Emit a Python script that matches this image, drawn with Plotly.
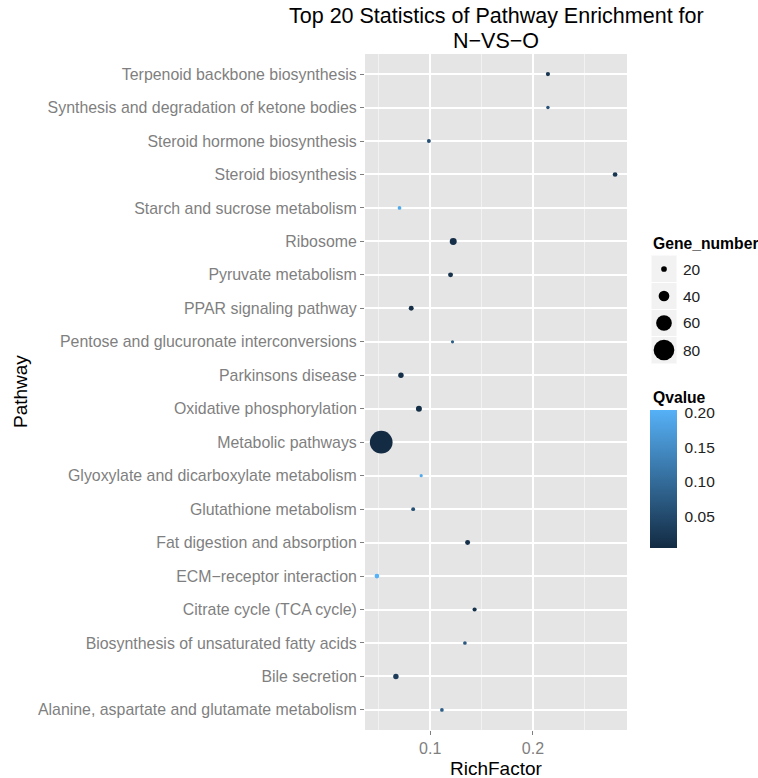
import plotly.graph_objects as go

# ---- data (pathways listed bottom -> top) ----
pathways = [
    "Alanine, aspartate and glutamate metabolism",
    "Bile secretion",
    "Biosynthesis of unsaturated fatty acids",
    "Citrate cycle (TCA cycle)",
    "ECM\u2212receptor interaction",
    "Fat digestion and absorption",
    "Glutathione metabolism",
    "Glyoxylate and dicarboxylate metabolism",
    "Metabolic pathways",
    "Oxidative phosphorylation",
    "Parkinsons disease",
    "Pentose and glucuronate interconversions",
    "PPAR signaling pathway",
    "Pyruvate metabolism",
    "Ribosome",
    "Starch and sucrose metabolism",
    "Steroid biosynthesis",
    "Steroid hormone biosynthesis",
    "Synthesis and degradation of ketone bodies",
    "Terpenoid backbone biosynthesis",
]
rich_factor = [0.1114, 0.0666, 0.1338, 0.1432, 0.0481, 0.1364, 0.0834, 0.0912,
               0.0523, 0.0890, 0.0715, 0.1217, 0.0815, 0.1198, 0.1224, 0.0701,
               0.2800, 0.0987, 0.2146, 0.2146]
gene_number = [12, 19, 12, 14, 16, 17, 13, 10, 88, 21, 19, 10, 17, 17, 25, 12,
               16, 13, 11, 14]
qvalue = [0.080, 0.030, 0.070, 0.015, 0.204, 0.010, 0.060, 0.190, 0.0045, 0.010,
          0.010, 0.080, 0.010, 0.015, 0.010, 0.190, 0.020, 0.060, 0.060, 0.020]

size_breaks = [20, 40, 60, 80]
q_ticks = [0.05, 0.10, 0.15, 0.20]
x_ticks = [0.1, 0.2]
x_minor = [0.05, 0.15, 0.25]

title_lines = ["Top 20 Statistics of Pathway Enrichment for", "N\u2212VS\u2212O"]

# ---- styling helpers ----
W, H = 758, 778
FONT = "Liberation Sans, Arial, sans-serif"
GREY = "#7F7F7F"
PANEL = "#E5E5E5"
SCALE = [[0, "#132B43"], [1, "#56B1F7"]]


def px_x(p):
    return p / W


def px_y(p):
    return 1 - p / H


def diam(n):
    return 0.25 * n + 0.7


# x range with 5% expansion on each side
lo, hi = min(rich_factor), max(rich_factor)
pad = 0.05 * (hi - lo)
x_range = [lo - pad, hi + pad]

qmin, qmax = min(qvalue), max(qvalue)

# colourbar geometry (pixels)
CB_LEFT, CB_TOP, CB_LEN, CB_W = 650, 410, 138, 27

fig = go.Figure()

fig.add_trace(go.Scatter(
    x=rich_factor, y=pathways, mode="markers",
    marker=dict(
        size=[diam(n) for n in gene_number],
        color=qvalue, colorscale=SCALE, cmin=qmin, cmax=qmax,
        line=dict(width=0), opacity=1,
        showscale=True,
        colorbar=dict(
            x=px_x(CB_LEFT), xanchor="left", xpad=0,
            y=px_y(CB_TOP), yanchor="top", ypad=0,
            len=CB_LEN, lenmode="pixels",
            thickness=CB_W, thicknessmode="pixels",
            outlinewidth=0,
            tickvals=q_ticks, ticktext=[f"{v:.2f}" for v in q_ticks],
            ticks="outside", tickcolor="rgba(255,255,255,0)", ticklen=5,
            tickfont=dict(family=FONT, size=15.5, color="#222222"),
        ),
    ),
    showlegend=False, hoverinfo="x+y",
    xaxis="x", yaxis="y",
))

# size legend keys
fig.add_trace(go.Scatter(
    x=[0] * len(size_breaks), y=list(range(len(size_breaks))), mode="markers",
    marker=dict(size=[diam(n) for n in size_breaks], color="#000000",
                opacity=1, line=dict(width=0)),
    opacity=1,
    showlegend=False, hoverinfo="skip",
    xaxis="x2", yaxis="y2",
))

shapes = []
for i in range(len(size_breaks)):
    shapes.append(dict(type="rect", xref="x2", yref="y2",
                       x0=-0.5, x1=0.5, y0=i - 0.5, y1=i + 0.5,
                       fillcolor="#F2F2F2", line=dict(color="white", width=1),
                       layer="below"))

# white tick marks on both edges of the colourbar
for v in q_ticks:
    yp = CB_TOP + (qmax - v) / (qmax - qmin) * CB_LEN
    for x0, x1 in ((CB_LEFT, CB_LEFT + 5), (CB_LEFT + CB_W - 5, CB_LEFT + CB_W)):
        shapes.append(dict(type="line", xref="paper", yref="paper",
                           x0=px_x(x0), x1=px_x(x1),
                           y0=px_y(yp), y1=px_y(yp),
                           line=dict(color="white", width=1)))

annotations = [
    dict(text=title_lines[0], x=px_x(496), y=px_y(16.5),
         xanchor="center", yanchor="middle",
         font=dict(family=FONT, size=21.5, color="black")),
    dict(text=title_lines[1], x=px_x(496), y=px_y(41),
         xanchor="center", yanchor="middle",
         font=dict(family=FONT, size=21.5, color="black")),
    dict(text="Pathway", x=px_x(20), y=px_y(392), textangle=-90,
         xanchor="center", yanchor="middle",
         font=dict(family=FONT, size=19, color="black")),
    dict(text="RichFactor", x=px_x(496), y=px_y(768),
         xanchor="center", yanchor="middle",
         font=dict(family=FONT, size=19, color="black")),
    dict(text="<b>Gene_number</b>", x=px_x(651), y=px_y(243),
         xanchor="left", yanchor="middle",
         font=dict(family=FONT, size=15.7, color="black")),
    dict(text="<b>Qvalue</b>", x=px_x(651), y=px_y(397),
         xanchor="left", yanchor="middle",
         font=dict(family=FONT, size=15.7, color="black")),
]
KEY_TOP, KEY_H = 255.5, 27
for i, n in enumerate(size_breaks):
    annotations.append(dict(text=str(n), x=px_x(681),
                            y=px_y(KEY_TOP + KEY_H * (i + 0.5)),
                            xanchor="left", yanchor="middle",
                            font=dict(family=FONT, size=15.5, color="#222222")))
for a in annotations:
    a.update(xref="paper", yref="paper", showarrow=False)

fig.update_layout(
    width=W, height=H,
    margin=dict(l=0, r=0, t=0, b=0),
    paper_bgcolor="white", plot_bgcolor=PANEL,
    font=dict(family=FONT),
    xaxis=dict(
        domain=[px_x(365), px_x(627)], range=x_range,
        tickmode="array", tickvals=x_ticks, ticktext=[str(v) for v in x_ticks],
        showgrid=True, gridcolor="white", gridwidth=1.6,
        minor=dict(tickmode="array", tickvals=x_minor, showgrid=True,
                   gridcolor="#F2F2F2", gridwidth=0.8, ticks=""),
        ticks="outside", ticklen=4, tickcolor=GREY, tickwidth=1,
        tickfont=dict(family=FONT, size=16, color=GREY),
        zeroline=False, showline=False, fixedrange=True,
    ),
    yaxis=dict(
        domain=[px_y(730), px_y(54)],
        type="category", categoryorder="array", categoryarray=pathways,
        range=[-0.6, len(pathways) - 1 + 0.6],
        showgrid=True, gridcolor="white", gridwidth=1.6,
        ticks="outside", ticklen=4, tickcolor=GREY, tickwidth=1,
        tickfont=dict(family=FONT, size=15.9, color=GREY),
        zeroline=False, showline=False, fixedrange=True,
    ),
    xaxis2=dict(domain=[px_x(651), px_x(677)], range=[-0.5, 0.5],
                visible=False, fixedrange=True, anchor="y2"),
    yaxis2=dict(domain=[px_y(KEY_TOP + KEY_H * 4), px_y(KEY_TOP)],
                range=[len(size_breaks) - 0.5, -0.5],
                visible=False, fixedrange=True, anchor="x2"),
    shapes=shapes,
    annotations=annotations,
)

fig.write_html("out.html")
